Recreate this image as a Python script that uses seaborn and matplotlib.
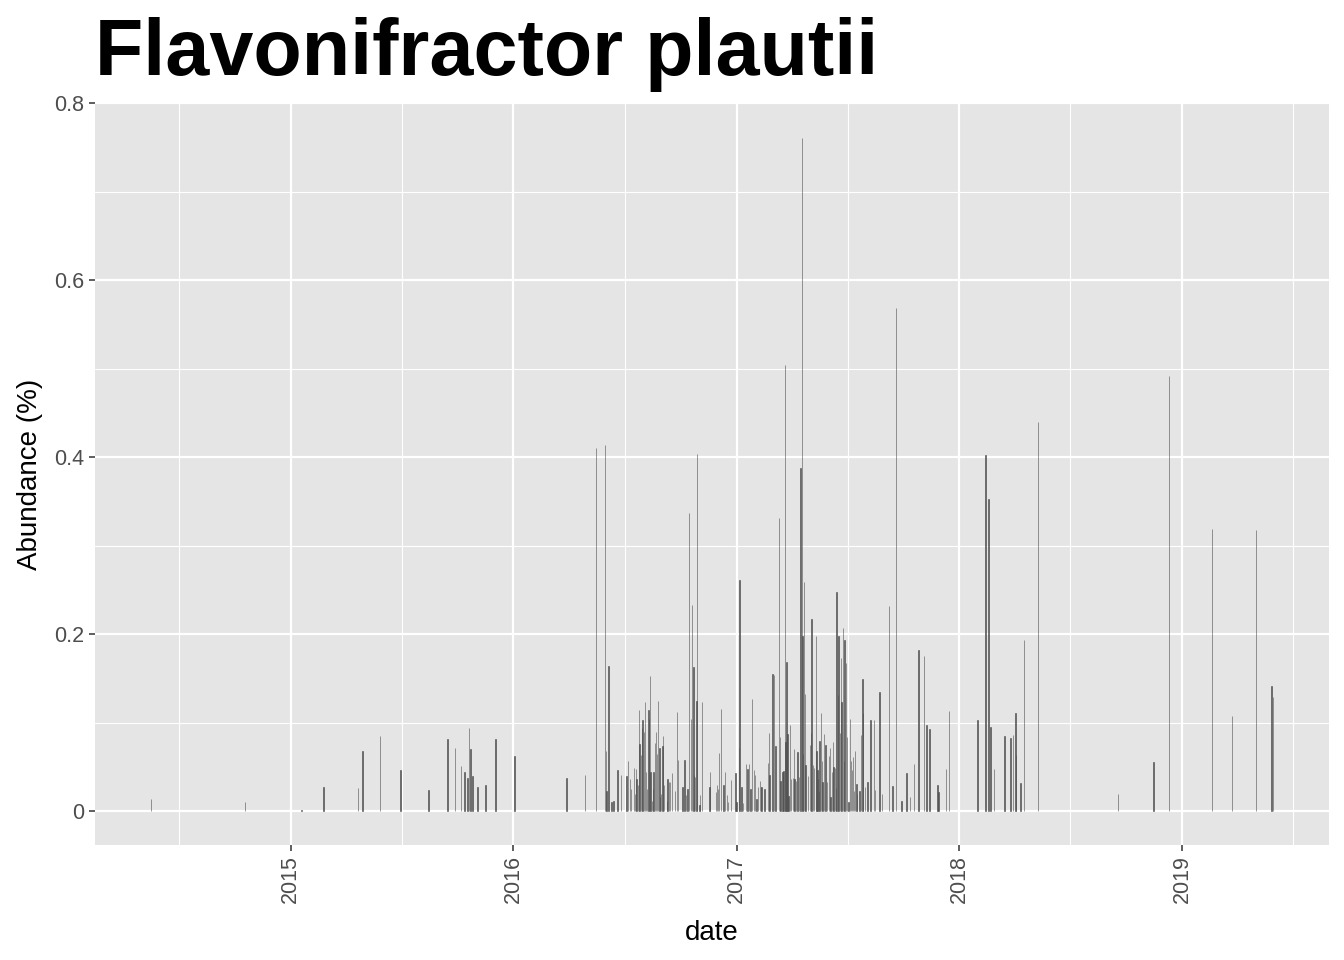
import numpy as np
import pandas as pd
import seaborn as sns
import matplotlib
matplotlib.use("Agg")
import matplotlib.pyplot as plt
import matplotlib.dates as mdates
from matplotlib.ticker import FixedLocator, FuncFormatter

# abundance values, grouped by period
dates_2014_15 = ["2014-05-17", "2014-10-18", "2015-01-19", "2015-02-24", "2015-04-21",
                 "2015-04-29", "2015-05-27", "2015-06-30", "2015-08-15", "2015-09-15",
                 "2015-09-27", "2015-10-07", "2015-10-13", "2015-10-18", "2015-10-20",
                 "2015-10-23", "2015-10-26", "2015-11-03", "2015-11-16", "2015-12-03"]
vals_2014_15 = [0.014, 0.010, 0.002, 0.027, 0.026, 0.068, 0.085, 0.047, 0.024, 0.082,
                0.071, 0.051, 0.044, 0.038, 0.094, 0.070, 0.040, 0.028, 0.030, 0.082]

dates_2016 = ["2016-01-03", "2016-03-28", "2016-04-27", "2016-05-15", "2016-05-30",
              "2016-06-01", "2016-06-02", "2016-06-05", "2016-06-10", "2016-06-13",
              "2016-06-20", "2016-06-25", "2016-07-04", "2016-07-07", "2016-07-10",
              "2016-07-12", "2016-07-17", "2016-07-18", "2016-07-20", "2016-07-21",
              "2016-07-23", "2016-07-25", "2016-07-26", "2016-07-28", "2016-07-30",
              "2016-07-31", "2016-08-02", "2016-08-04", "2016-08-05", "2016-08-07",
              "2016-08-09", "2016-08-10", "2016-08-12", "2016-08-13", "2016-08-15",
              "2016-08-17", "2016-08-18", "2016-08-20", "2016-08-22", "2016-08-23",
              "2016-08-25", "2016-08-27", "2016-08-28", "2016-08-30", "2016-09-01",
              "2016-09-02", "2016-09-04", "2016-09-09", "2016-09-10", "2016-09-12",
              "2016-09-14", "2016-09-17", "2016-09-22", "2016-09-25", "2016-09-27",
              "2016-10-04", "2016-10-07", "2016-10-10", "2016-10-12", "2016-10-15",
              "2016-10-18", "2016-10-20", "2016-10-22", "2016-10-23", "2016-10-25",
              "2016-10-27", "2016-10-28", "2016-11-01", "2016-11-02", "2016-11-05",
              "2016-11-17", "2016-11-18", "2016-11-28", "2016-11-30", "2016-12-01",
              "2016-12-03", "2016-12-06", "2016-12-10", "2016-12-13", "2016-12-16",
              "2016-12-18", "2016-12-23", "2016-12-30"]
vals_2016 = [0.063, 0.038, 0.041, 0.410, 0.414, 0.068, 0.023, 0.164, 0.011, 0.012,
             0.047, 0.041, 0.040, 0.057, 0.037, 0.025, 0.049, 0.020, 0.048, 0.036,
             0.030, 0.114, 0.076, 0.064, 0.094, 0.103, 0.090, 0.124, 0.045, 0.025,
             0.115, 0.104, 0.153, 0.045, 0.012, 0.025, 0.045, 0.077, 0.090, 0.065,
             0.125, 0.071, 0.016, 0.020, 0.074, 0.085, 0.030, 0.012, 0.036, 0.033,
             0.033, 0.043, 0.023, 0.112, 0.058, 0.027, 0.058, 0.018, 0.025, 0.337,
             0.104, 0.233, 0.163, 0.041, 0.039, 0.125, 0.404, 0.007, 0.018, 0.124,
             0.027, 0.045, 0.022, 0.030, 0.025, 0.066, 0.116, 0.030, 0.044, 0.018,
             0.010, 0.035, 0.043]

dates_2017 = ["2017-01-01", "2017-01-05", "2017-01-06", "2017-01-09", "2017-01-11",
              "2017-01-16", "2017-01-19", "2017-01-21", "2017-01-24", "2017-01-26",
              "2017-01-29", "2017-01-31", "2017-02-02", "2017-02-05", "2017-02-08",
              "2017-02-10", "2017-02-11", "2017-02-16", "2017-02-21", "2017-02-23",
              "2017-02-24", "2017-03-01", "2017-03-03", "2017-03-06", "2017-03-11",
              "2017-03-13", "2017-03-14", "2017-03-17", "2017-03-19", "2017-03-21",
              "2017-03-22", "2017-03-24", "2017-03-25", "2017-03-27", "2017-03-29",
              "2017-03-31", "2017-04-03", "2017-04-05", "2017-04-06", "2017-04-08",
              "2017-04-11", "2017-04-13", "2017-04-16", "2017-04-18", "2017-04-19",
              "2017-04-20", "2017-04-21", "2017-04-23", "2017-04-24", "2017-04-28",
              "2017-05-01", "2017-05-03", "2017-05-04", "2017-05-06", "2017-05-08",
              "2017-05-11", "2017-05-12", "2017-05-13", "2017-05-14", "2017-05-16",
              "2017-05-17", "2017-05-19", "2017-05-21", "2017-05-22", "2017-05-24",
              "2017-05-27", "2017-05-29", "2017-06-01", "2017-06-03", "2017-06-04",
              "2017-06-06", "2017-06-08", "2017-06-09", "2017-06-11", "2017-06-13",
              "2017-06-14", "2017-06-16", "2017-06-17", "2017-06-19", "2017-06-21",
              "2017-06-22", "2017-06-24", "2017-06-26", "2017-06-27", "2017-06-29",
              "2017-07-01", "2017-07-03", "2017-07-06", "2017-07-07", "2017-07-09",
              "2017-07-11", "2017-07-12", "2017-07-14", "2017-07-16", "2017-07-17",
              "2017-07-21", "2017-07-24", "2017-07-26", "2017-07-27", "2017-07-30",
              "2017-08-03", "2017-08-08", "2017-08-14", "2017-08-16", "2017-08-23",
              "2017-08-27", "2017-09-08", "2017-09-13", "2017-09-19", "2017-09-28",
              "2017-10-06", "2017-10-12", "2017-10-19", "2017-10-26", "2017-11-04",
              "2017-11-08", "2017-11-13", "2017-11-26", "2017-11-28", "2017-12-10",
              "2017-12-15"]
vals_2017 = [0.011, 0.071, 0.261, 0.027, 0.009, 0.053, 0.048, 0.054, 0.025, 0.127,
             0.047, 0.041, 0.014, 0.028, 0.034, 0.028, 0.028, 0.025, 0.055, 0.088,
             0.041, 0.155, 0.154, 0.074, 0.331, 0.084, 0.034, 0.044, 0.046, 0.504,
             0.078, 0.169, 0.087, 0.017, 0.098, 0.036, 0.038, 0.070, 0.036, 0.034,
             0.067, 0.039, 0.388, 0.760, 0.198, 0.065, 0.259, 0.133, 0.052, 0.040,
             0.075, 0.088, 0.217, 0.052, 0.049, 0.198, 0.068, 0.047, 0.036, 0.023,
             0.079, 0.111, 0.057, 0.033, 0.087, 0.075, 0.033, 0.062, 0.072, 0.016,
             0.044, 0.078, 0.050, 0.049, 0.026, 0.248, 0.131, 0.198, 0.088, 0.173,
             0.124, 0.207, 0.057, 0.194, 0.168, 0.084, 0.010, 0.104, 0.057, 0.047,
             0.061, 0.023, 0.068, 0.031, 0.020, 0.023, 0.086, 0.149, 0.111, 0.028,
             0.033, 0.103, 0.103, 0.024, 0.135, 0.020, 0.232, 0.029, 0.568, 0.012,
             0.043, 0.016, 0.053, 0.182, 0.175, 0.097, 0.093, 0.030, 0.022, 0.048,
             0.113]

dates_2018_19 = ["2018-01-31", "2018-02-13", "2018-02-18", "2018-02-21", "2018-02-27",
                 "2018-03-16", "2018-03-26", "2018-03-30", "2018-04-03", "2018-04-04",
                 "2018-04-11", "2018-04-17", "2018-05-10", "2018-09-18", "2018-11-15",
                 "2018-12-11", "2019-02-19", "2019-03-24", "2019-05-02", "2019-05-28",
                 "2019-05-30"]
vals_2018_19 = [0.103, 0.402, 0.353, 0.095, 0.048, 0.085, 0.083, 0.086, 0.111, 0.064,
                0.032, 0.193, 0.440, 0.020, 0.056, 0.492, 0.319, 0.108, 0.318, 0.142,
                0.129]

df = pd.DataFrame({
    "date": pd.to_datetime(dates_2014_15 + dates_2016 + dates_2017 + dates_2018_19),
    "abundance": vals_2014_15 + vals_2016 + vals_2017 + vals_2018_19,
})

sns.set_theme(style="darkgrid", rc={"axes.facecolor": "#E5E5E5", "grid.color": "white",
                                    "text.color": "black"})
plt.rcParams["font.family"] = ["Liberation Sans", "DejaVu Sans"]

fig = plt.figure(figsize=(13.44, 9.6), dpi=100)
ax = fig.add_axes([95 / 1344, 1 - 845 / 960, (1329 - 95) / 1344, (845 - 103) / 960])

# thin bars: a small edge keeps sub-pixel bars visible
ax.bar(df["date"], df["abundance"], width=0.9, color="#4D4D4D",
       edgecolor="#4D4D4D", linewidth=0.4, zorder=3)

# ggplot-like 5% expansion
lo, hi = df["date"].min(), df["date"].max()
span = hi - lo
ax.set_xlim(lo - 0.05 * span, hi + 0.05 * span)
ymax = df["abundance"].max()
ax.set_ylim(-0.05 * ymax, 1.05 * ymax + 0.002)

ax.xaxis.set_major_locator(mdates.YearLocator())
ax.xaxis.set_major_formatter(mdates.DateFormatter("%Y"))
mid_years = mdates.date2num(pd.to_datetime([f"{y}-07-02" for y in range(2014, 2020)]))
ax.xaxis.set_minor_locator(FixedLocator(mid_years))
ax.yaxis.set_major_locator(FixedLocator([0, 0.2, 0.4, 0.6, 0.8]))
ax.yaxis.set_minor_locator(FixedLocator([0.1, 0.3, 0.5, 0.7]))
ax.yaxis.set_major_formatter(FuncFormatter(lambda v, _: "0" if v == 0 else f"{v:.1f}"))

ax.grid(which="major", color="white", linewidth=1.6)
ax.grid(which="minor", color="white", linewidth=0.8)
ax.set_axisbelow(True)
for s in ax.spines.values():
    s.set_visible(False)

ax.tick_params(which="major", bottom=True, left=True, length=4.5, width=1.1,
               color="#333333", labelcolor="#4D4D4D", labelsize=15.5, pad=3)
ax.tick_params(which="minor", bottom=False, left=False, length=0)
ax.tick_params(axis="x", labelrotation=90)

ax.set_xlabel("date", fontsize=20, color="black", labelpad=12)
ax.set_ylabel("Abundance (%)", fontsize=20, color="black", labelpad=8)

fig.text(95 / 1344, 1 - 75 / 960, "Flavonifractor plautii", fontsize=57,
         fontweight="bold", color="black", ha="left", va="baseline")

fig.savefig("out.png", dpi=100)
